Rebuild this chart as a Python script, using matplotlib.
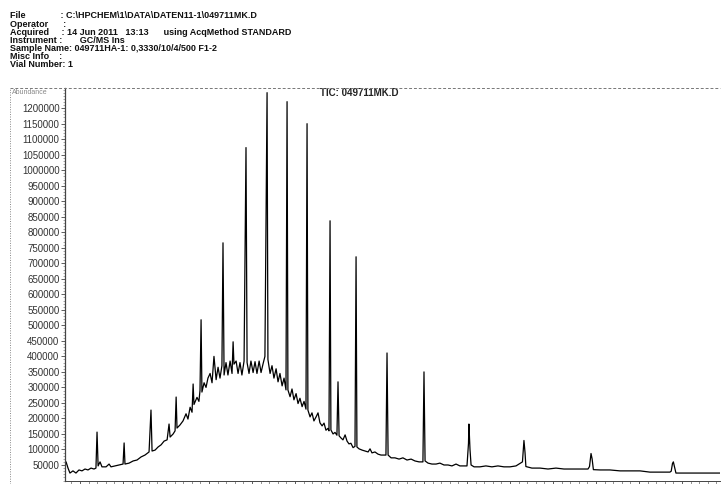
import matplotlib
matplotlib.use("Agg")
import matplotlib.pyplot as plt
from matplotlib.lines import Line2D
from matplotlib.ticker import MultipleLocator, FixedLocator

plt.rcParams["font.family"] = ["Liberation Sans", "DejaVu Sans"]

# header block of the GC/MS report (spaces align the colons as in the print)
header_lines = [
    "File" + " " * 14 + ": C:\\HPCHEM\\1\\DATA\\DATEN11-1\\049711MK.D",
    "Operator      :",
    "Acquired     : 14 Jun 2011   13:13      using AcqMethod STANDARD",
    "Instrument :       GC/MS Ins",
    "Sample Name: 049711HA-1: 0,3330/10/4/500 F1-2",
    "Misc Info    :",
    "Vial Number: 1",
]
trace_title = "TIC: 049711MK.D"

# total ion chromatogram (retention time in min, abundance)
rt_min = [
    3.30, 3.35, 3.44, 3.53, 3.67, 3.81, 3.95, 4.09, 4.23, 4.37, 4.51, 4.65, 4.74,
    4.79, 4.84, 4.93, 5.02, 5.21, 5.35, 5.44, 5.63, 5.81, 6.00, 6.05, 6.09, 6.28,
    6.47, 6.65, 6.84, 7.02, 7.21, 7.30, 7.35, 7.49, 7.63, 7.77, 7.91, 8.05, 8.14,
    8.19, 8.33, 8.42, 8.47, 8.51, 8.65, 8.79, 8.93, 9.02, 9.12, 9.21, 9.26, 9.30,
    9.44, 9.53, 9.58, 9.63, 9.67, 9.77, 9.86, 9.95, 10.05, 10.14, 10.23, 10.33,
    10.42, 10.51, 10.60, 10.65, 10.70, 10.79, 10.88, 10.98, 11.07, 11.12, 11.16,
    11.26, 11.35, 11.44, 11.53, 11.63, 11.72, 11.77, 11.86, 11.95, 12.05, 12.14,
    12.23, 12.33, 12.42, 12.51, 12.60, 12.70, 12.74, 12.84, 12.93, 13.02, 13.12,
    13.21, 13.30, 13.40, 13.49, 13.58, 13.63, 13.67, 13.77, 13.86, 13.95, 14.05,
    14.14, 14.23, 14.33, 14.42, 14.51, 14.56, 14.60, 14.70, 14.79, 14.88, 14.98,
    15.07, 15.16, 15.26, 15.35, 15.44, 15.53, 15.58, 15.63, 15.67, 15.77, 15.86,
    15.95, 16.00, 16.05, 16.14, 16.23, 16.33, 16.42, 16.51, 16.60, 16.70, 16.79,
    16.84, 16.88, 16.98, 17.12, 17.26, 17.40, 17.49, 17.58, 17.72, 17.86, 18.00,
    18.14, 18.23, 18.28, 18.33, 18.47, 18.65, 18.84, 19.02, 19.21, 19.40, 19.58,
    19.77, 19.95, 20.00, 20.05, 20.19, 20.37, 20.56, 20.74, 20.93, 21.12, 21.30,
    21.49, 21.67, 21.86, 22.00, 22.07, 22.09, 22.14, 22.19, 22.33, 22.60, 22.88,
    23.16, 23.44, 23.72, 24.00, 24.28, 24.58, 24.65, 24.70, 24.74, 25.02, 25.40,
    25.77, 26.14, 26.51, 26.88, 27.26, 27.63, 27.70, 27.77, 27.82, 27.88, 28.19,
    28.65, 29.12, 29.58, 30.05, 30.51, 30.98, 31.44, 31.50, 31.56, 31.60, 31.65,
    31.72, 32.14, 32.60, 33.07, 33.53, 33.77,
]
abundance = [
    47000, 60000, 40000, 24000, 31000, 24000, 34000, 31000, 37000, 34000, 40000,
    37000, 40000, 156000, 47000, 60000, 44000, 44000, 53000, 44000, 47000, 50000,
    53000, 121000, 53000, 56000, 63000, 66000, 76000, 82000, 92000, 227000, 95000,
    98000, 108000, 115000, 127000, 131000, 182000, 140000, 150000, 160000, 269000,
    169000, 179000, 192000, 215000, 198000, 236000, 220000, 311000, 245000,
    268000, 255000, 290000, 518000, 285000, 315000, 300000, 330000, 345000,
    315000, 400000, 325000, 365000, 330000, 370000, 766000, 340000, 380000,
    340000, 385000, 345000, 447000, 375000, 385000, 345000, 380000, 340000,
    385000, 1073000, 380000, 345000, 385000, 348000, 383000, 345000, 385000,
    348000, 375000, 400000, 1250000, 390000, 345000, 370000, 330000, 360000,
    318000, 345000, 305000, 330000, 292000, 1221000, 292000, 270000, 295000,
    260000, 280000, 248000, 265000, 238000, 255000, 230000, 1150000, 227000,
    205000, 218000, 192000, 205000, 218000, 186000, 176000, 185000, 162000,
    168000, 160000, 837000, 163000, 150000, 155000, 146000, 318000, 144000,
    137000, 131000, 147000, 127000, 118000, 120000, 106000, 110000, 721000,
    108000, 102000, 98000, 95000, 92000, 102000, 89000, 92000, 85000, 82000,
    82000, 82000, 411000, 82000, 73000, 73000, 69000, 73000, 66000, 69000, 63000,
    60000, 60000, 350000, 63000, 56000, 53000, 53000, 56000, 50000, 50000, 47000,
    53000, 47000, 47000, 47000, 120000, 182000, 100000, 50000, 44000, 44000,
    47000, 44000, 47000, 44000, 44000, 47000, 60000, 129000, 90000, 45000, 40000,
    40000, 37000, 40000, 37000, 37000, 37000, 37000, 45000, 87000, 70000, 35000,
    34000, 34000, 31000, 31000, 31000, 27000, 27000, 27000, 30000, 55000, 60000,
    45000, 24000, 24000, 24000, 24000, 24000, 24000,
]

W, H = 722, 484
fig = plt.figure(figsize=(W / 100, H / 100), dpi=100)
fig.patch.set_facecolor("white")

# header text as one block, tight line spacing like the printout
fig.text(10 / W, 1 - 11.5 / H, "\n".join(header_lines), fontsize=6.5,
         fontweight="bold", va="top", ha="left", linespacing=0.88,
         color="#111111")

# frame lines of the printout
fig.add_artist(Line2D([10 / W, 720 / W], [1 - 88 / H, 1 - 88 / H],
                      lw=0.7, ls=(0, (3, 2)), color="#777777"))
fig.add_artist(Line2D([10 / W, 10 / W], [0, 1 - 88 / H],
                      lw=0.7, ls=(0, (1, 1.5)), color="#888888"))
fig.text(12 / W, 1 - 92 / H, "Abundance", fontsize=5, color="#888888",
         va="center", ha="left")

ax = fig.add_axes([65 / W, 3.5 / H, 655 / W, 392.5 / H])
ax.plot(rt_min, abundance, color="black", lw=0.9)

ax.set_xlim(3.30, 33.77)
ax.set_ylim(0, 1265000)

ax.yaxis.set_major_locator(FixedLocator(range(50000, 1200001, 50000)))
ax.yaxis.set_minor_locator(MultipleLocator(10000))
ax.set_yticklabels([str(v) for v in range(50000, 1200001, 50000)])
ax.xaxis.set_major_locator(MultipleLocator(2))
ax.xaxis.set_minor_locator(MultipleLocator(0.4))

ax.tick_params(axis="y", which="major", direction="out", length=3, width=0.6,
               labelsize=7, labelcolor="#333333", pad=1, color="#444444")
ax.tick_params(axis="y", which="minor", direction="out", length=1.5,
               width=0.4, color="#666666")
ax.tick_params(axis="x", which="major", direction="out", length=3, width=0.6,
               labelbottom=False, color="#444444")
ax.tick_params(axis="x", which="minor", direction="out", length=2, width=0.5,
               color="#666666")

for side in ("top", "right"):
    ax.spines[side].set_visible(False)
ax.spines["left"].set_linewidth(0.9)
ax.spines["left"].set_color("#444444")
ax.spines["bottom"].set_linewidth(0.7)
ax.spines["bottom"].set_color("#444444")
ax.set_facecolor("none")

ax.text(0.45, 1.0, trace_title, transform=ax.transAxes, fontsize=7,
        fontweight="bold", ha="center", va="top", color="#222222")

fig.savefig("out.png", dpi=100)
